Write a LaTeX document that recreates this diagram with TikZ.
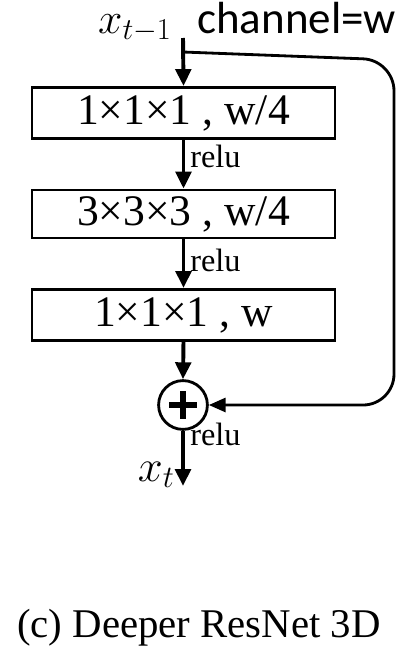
\documentclass[tikz,border=0pt]{standalone}
\usepackage{fontspec}
\setmainfont{Liberation Serif}
\newfontfamily\chanfont{Carlito}
\usetikzlibrary{arrows.meta, positioning, calc}

\begin{document}
\begin{tikzpicture}[x=0.025cm, y=-0.025cm,
    layer/.style={draw, line width=2pt, minimum width=7.57cm, minimum height=1.28cm, inner sep=0pt, font=\fontsize{31}{34}\selectfont},
    arr/.style={-{Triangle[length=12pt, width=11pt]}, line width=2.8pt},
    skip/.style={-{Triangle[length=12pt, width=10pt]}, line width=2pt, rounded corners=22},
    lbl/.style={font=\fontsize{23}{25}\selectfont, anchor=base west, inner sep=0pt},
    var/.style={font=\fontsize{24}{26}\selectfont, anchor=base east, inner sep=0pt},
]
\useasboundingbox (0,0) rectangle (410,658);

% Input
\coordinate (in) at (183, 38);
\coordinate (split) at (183, 52);
\node[var] (xin) at (172, 33) {\scalebox{1.25}{$x_{t-1}$}};
\node[font=\chanfont\fontsize{32}{34}\selectfont, anchor=base west, inner sep=0pt] (chan) at (197, 33) {channel=w};

% Bottleneck layers
\node[layer] (conv1) at (183.5, 113) {1×1×1 , w/4};
\node[layer, minimum height=1.2cm] (conv2) at (183.5, 214) {3×3×3 , w/4};
\node[layer] (conv3) at (183.5, 315) {1×1×1 , w};

% Sum
\node[circle, draw, line width=2pt, minimum size=1.22cm, inner sep=0pt] (sum) at (183, 405) {};
\draw[line width=4.2pt] ($(sum.center)+(-14,0)$) -- ($(sum.center)+(14,0)$);
\draw[line width=4.2pt] ($(sum.center)+(0,-14)$) -- ($(sum.center)+(0,14)$);

% Output
\coordinate (out) at (183, 486);
\node[var] (xout) at (175, 481) {\scalebox{1.28}{$x_t$}};

% Main path
\draw[arr] (in) -- (conv1.north);
\draw[arr] (conv1.south) -- (conv2.north);
\draw[arr] (conv2.south) -- (conv3.north);
\draw[arr] (conv3.south) -- (sum.north);
\draw[arr] (sum.south) -- (out);

\node[lbl] (relu1) at (190, 167) {relu};
\node[lbl] (relu2) at (190, 271) {relu};
\node[lbl] (relu3) at (190, 445) {relu};

% Shortcut
\draw[skip] (split) -- (394, 60) -- (394, 405) -- (sum.east);

% Caption
\node[font=\fontsize{29}{32}\selectfont] (cap) at (199, 628) {(c) Deeper ResNet 3D};
\end{tikzpicture}
\end{document}
